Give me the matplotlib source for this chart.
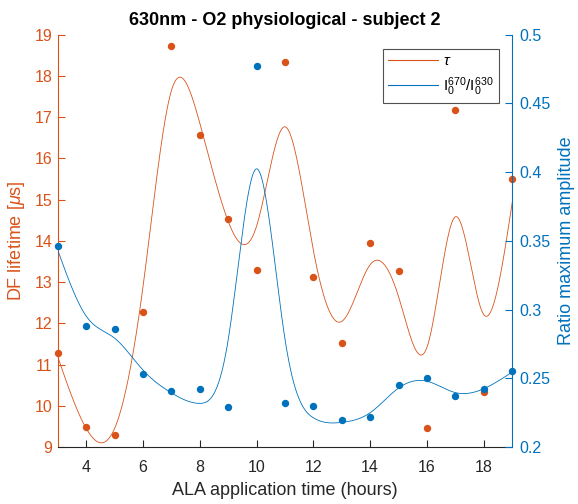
import numpy as np
import matplotlib
matplotlib.use("Agg")
import matplotlib.pyplot as plt
from matplotlib.lines import Line2D

plt.rcParams['font.family'] = ['Liberation Sans', 'DejaVu Sans']
plt.rcParams['mathtext.fontset'] = 'custom'
plt.rcParams['mathtext.rm'] = 'Liberation Sans'
plt.rcParams['mathtext.it'] = 'Liberation Sans:italic'

# ALA application time (hours)
hours = np.arange(3, 20)
# DF lifetime tau [us]
tau = [11.27, 9.49, 9.29, 12.28, 18.72, 16.57, 14.53, 13.30, 18.35,
       13.12, 11.52, 13.95, 13.26, 9.45, 17.17, 10.33, 15.50]
# Ratio of maximum amplitudes I0(670)/I0(630)
ratio = [0.346, 0.288, 0.286, 0.253, 0.241, 0.242, 0.229, 0.477, 0.232,
         0.230, 0.220, 0.222, 0.245, 0.250, 0.237, 0.2425, 0.255]

P_TAU = 0.95
P_RATIO = 0.95

ORANGE = '#D95319'
BLUE = '#0072BD'
DARK = '#262626'


def smoothing_spline(x, y, p, xs):
    """Cubic smoothing spline: p*sum(resid^2) + (1-p)*int(f''^2)."""
    x = np.asarray(x, float)
    y = np.asarray(y, float)
    n = len(x)
    h = np.diff(x)
    Q = np.zeros((n, n - 2))
    R = np.zeros((n - 2, n - 2))
    for j in range(1, n - 1):
        Q[j - 1, j - 1] = 1 / h[j - 1]
        Q[j, j - 1] = -1 / h[j - 1] - 1 / h[j]
        Q[j + 1, j - 1] = 1 / h[j]
        R[j - 1, j - 1] = (h[j - 1] + h[j]) / 3
        if j < n - 2:
            R[j - 1, j] = R[j, j - 1] = h[j] / 6
    K = Q @ np.linalg.solve(R, Q.T)
    lam = (1 - p) / p
    g = np.linalg.solve(np.eye(n) + lam * K, y)
    gam = np.zeros(n)
    gam[1:-1] = np.linalg.solve(R, Q.T @ g)
    idx = np.clip(np.searchsorted(x, xs) - 1, 0, n - 2)
    x0, x1 = x[idx], x[idx + 1]
    hh = x1 - x0
    a = xs - x0
    b = x1 - xs
    return (a * g[idx + 1] + b * g[idx]) / hh - a * b / 6 * (
        (1 + a / hh) * gam[idx + 1] + (1 + b / hh) * gam[idx])


xs = np.linspace(hours[0], hours[-1], 800)

fig = plt.figure(figsize=(5.78, 5.04), dpi=100)
ax = fig.add_axes([0.100, 0.113, 0.786, 0.818])
ax2 = ax.twinx()

ax.plot(xs, smoothing_spline(hours, tau, P_TAU, xs), color=ORANGE, lw=0.6)
ax.plot(hours, tau, 'o', color=ORANGE, ms=4.3, clip_on=False, zorder=5)
ax2.plot(xs, smoothing_spline(hours, ratio, P_RATIO, xs), color=BLUE, lw=0.6)
ax2.plot(hours, ratio, 'o', color=BLUE, ms=4.3, clip_on=False, zorder=5)

ax.set_xlim(3, 19)
ax.set_ylim(9, 19)
ax2.set_ylim(0.2, 0.5)
ax.set_xticks(np.arange(4, 19, 2))
ax.set_yticks(np.arange(9, 20, 1))
ax2.set_yticks([0.2, 0.25, 0.3, 0.35, 0.4, 0.45, 0.5])
ax2.set_yticklabels(['0.2', '0.25', '0.3', '0.35', '0.4', '0.45', '0.5'])

for a in (ax, ax2):
    a.spines['top'].set_visible(False)
    for s in a.spines.values():
        s.set_linewidth(0.8)
ax.spines['right'].set_visible(False)
ax2.spines['left'].set_visible(False)
ax2.spines['bottom'].set_visible(False)
ax.spines['left'].set_color(ORANGE)
ax2.spines['right'].set_color(BLUE)
ax.spines['bottom'].set_color(DARK)

ax.tick_params(axis='x', direction='in', colors=DARK, labelsize=11.5, length=5, width=0.8, pad=9.5)
ax.tick_params(axis='y', direction='in', colors=ORANGE, labelsize=11.5, length=5, width=0.8, pad=4)
ax2.tick_params(axis='y', direction='in', colors=BLUE, labelsize=11.5, length=5, width=0.8, pad=5)

ax.set_xlabel('ALA application time (hours)', fontsize=13, color=DARK, labelpad=5)
ax.set_ylabel(r'DF lifetime [$\mu$s]', fontsize=13, color=ORANGE, labelpad=5)
ax2.set_ylabel('Ratio maximum amplitude', fontsize=13, color=BLUE, labelpad=5.5)
ax.set_title('630nm - O2 physiological - subject 2', fontsize=13, fontweight='bold',
             color='black', pad=7)

handles = [Line2D([], [], color=ORANGE, lw=0.8), Line2D([], [], color=BLUE, lw=0.8)]
leg = ax2.legend(handles, [r'$\tau$', r'I$_0^{670}$/I$_0^{630}$'], loc='upper right',
                 bbox_to_anchor=(0.971, 0.966), fontsize=11, frameon=True, fancybox=False,
                 edgecolor=DARK, handlelength=3.27, handletextpad=0.3, borderaxespad=0,
                 borderpad=0.35, labelspacing=0.45)
leg.get_frame().set_linewidth(0.8)

fig.savefig('out.png', dpi=100, facecolor='white')
